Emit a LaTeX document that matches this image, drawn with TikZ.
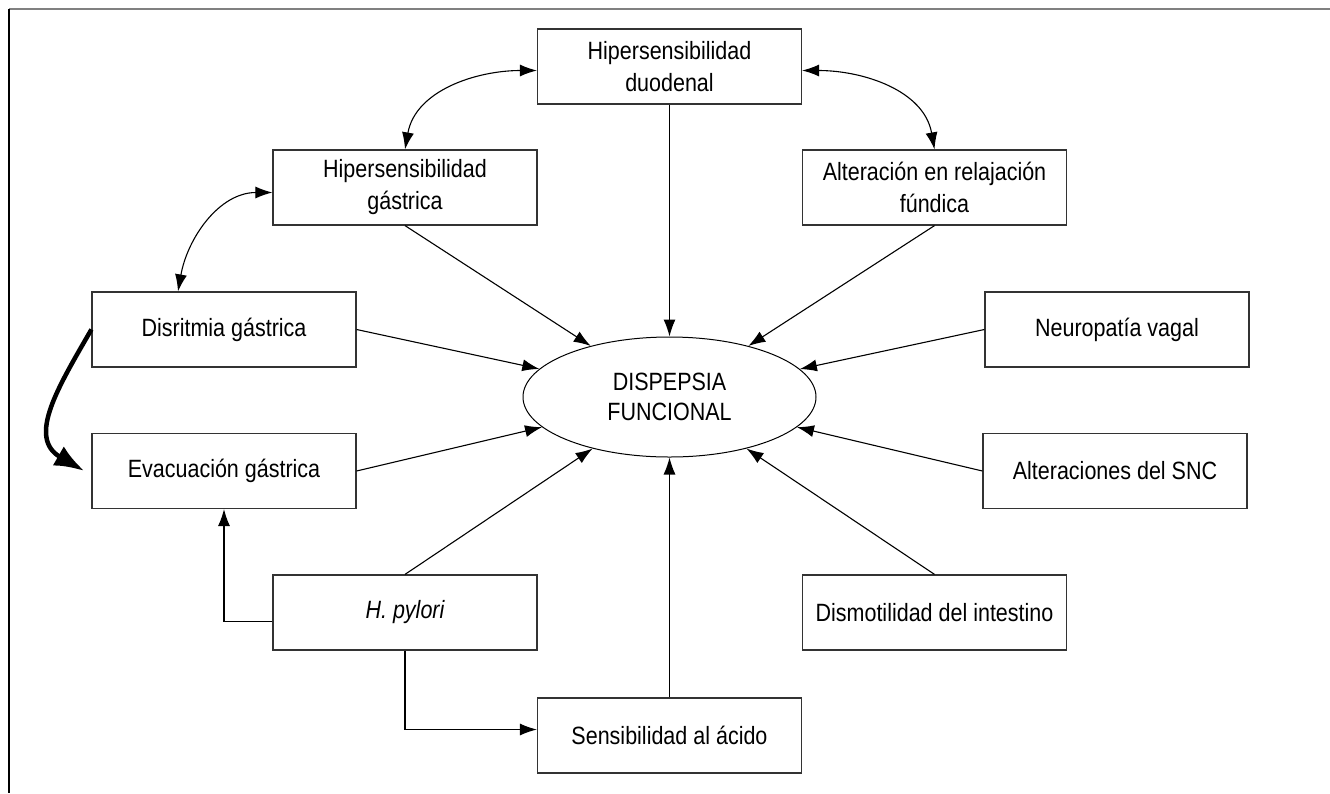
\documentclass[tikz,border=0pt]{standalone}
\usepackage{fontspec}
\setmainfont[FakeStretch=0.86]{Liberation Sans}
\usepackage{tikz}
\usetikzlibrary{arrows.meta,shapes.geometric}

\begin{document}
\begin{tikzpicture}[x=1pt,y=-1pt]
		\tikzset{caja/.style={draw=black!80,line width=1.2pt,minimum width=264pt,minimum height=75pt,inner sep=0pt,align=center,font=\fontsize{25}{32}\selectfont},
		flecha/.style={-{Latex[length=17pt,width=12pt]},line width=1.1pt},
		doble/.style={{Latex[length=17pt,width=12pt]}-{Latex[length=17pt,width=12pt]},line width=1.1pt},
		gruesa/.style={-{Latex[length=30pt,width=22pt]},line width=4.5pt}};
		\useasboundingbox (0,0) rectangle (1330,793);
		\draw[gray,line width=2pt] (9,9) -- (1330,9);
		\draw[line width=2pt] (9,9) -- (9,793);
		\node[ellipse,draw,line width=1pt,minimum width=293pt,minimum height=120pt,inner sep=0pt,align=center,font=\fontsize{25}{30}\selectfont] (dp) at (669.5,397) {DISPEPSIA\\FUNCIONAL};
		\node[caja] (hd) at (669.5,66.5) {Hipersensibilidad\\duodenal};
		\node[caja] (hg) at (405,187.5) {Hipersensibilidad\\gástrica};
		\node[caja] (arf) at (934.5,187.5) {Alteración en relajación\\fúndica};
		\node[caja] (dg) at (224,329.5) {Disritmia gástrica};
		\node[caja] (nv) at (1117,329.5) {Neuropatía vagal};
		\node[caja] (eg) at (224,471) {Evacuación gástrica};
		\node[caja] (snc) at (1115,471) {Alteraciones del SNC};
		\node[caja] (hp) at (405,612.5) {\itshape H. pylori};
		\node[caja] (di) at (934.5,612.5) {Dismotilidad del intestino};
		\node[caja] (sa) at (669.5,735.5) {Sensibilidad al ácido};
		\draw[flecha] (hd.south) -- (dp);
		\draw[flecha] (hg.south) -- (dp);
		\draw[flecha] (arf.south) -- (dp);
		\draw[flecha] (dg.east) -- (dp);
		\draw[flecha] (nv.west) -- (dp);
		\draw[flecha] (eg.east) -- (dp);
		\draw[flecha] (snc.west) -- (dp);
		\draw[flecha] (hp.north) -- (dp);
		\draw[flecha] (di.north) -- (dp);
		\draw[flecha] (sa.north) -- (dp);
		\draw[flecha] ([yshift=-9pt]hp.west) -| (eg.south);
		\draw[flecha] (hp.south) |- ([yshift=6pt]sa.west);
		\draw[doble] ([yshift=-4pt]hd.west) to[out=180,in=80] (hg.north);
		\draw[doble] ([yshift=-4pt]hd.east) to[out=0,in=100] (arf.north);
		\draw[doble] ([yshift=-5pt]hg.west) to[out=180,in=80] ([xshift=-46pt]dg.north);
		\draw[gruesa] (dg.west) to[out=240,in=150,looseness=1.2] ([xshift=-7pt]eg.west);
	\end{tikzpicture}
\end{document}
